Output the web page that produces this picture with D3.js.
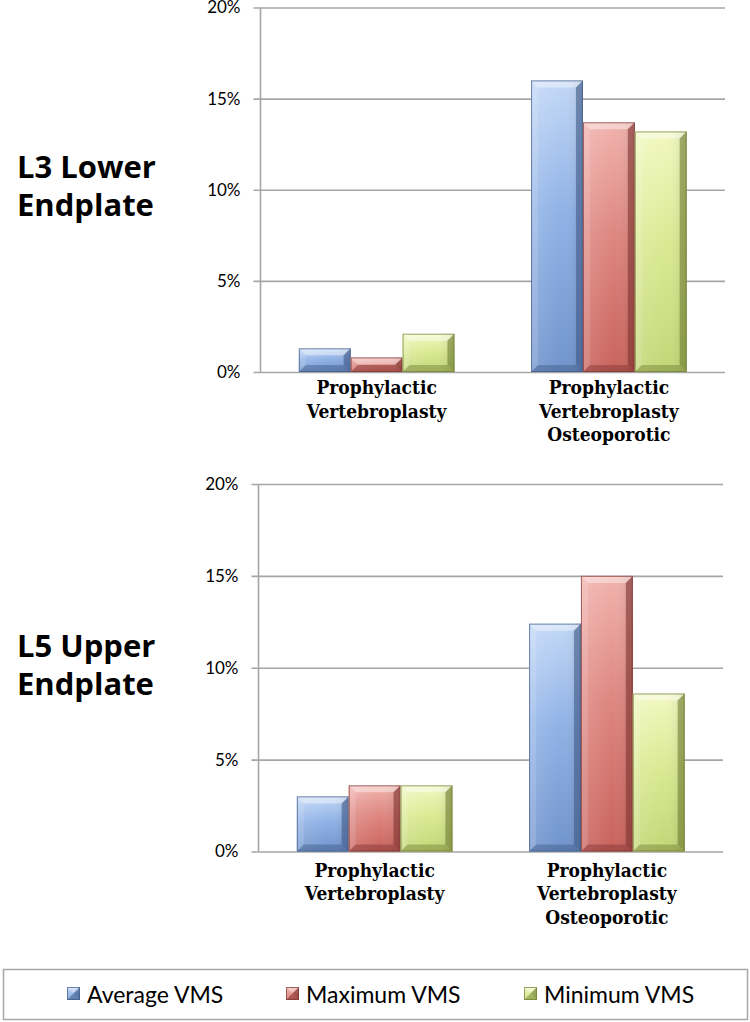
<!DOCTYPE html>
<html><head><meta charset="utf-8">
<script src="https://cdn.jsdelivr.net/npm/d3@7/dist/d3.min.js"></script>
<style>html,body{margin:0;padding:0;background:#fff;}svg{display:block;}</style>
</head><body>
<script>
const categories = ["Prophylactic|Vertebroplasty", "Prophylactic|Vertebroplasty|Osteoporotic"];
const seriesNames = ["Average VMS", "Maximum VMS", "Minimum VMS"];
const panelTitles = [["L3 Lower", "Endplate"], ["L5 Upper", "Endplate"]];
// values in percent, [category][series]
const l3Values = [[1.3, 0.8, 2.1], [16.0, 13.7, 13.2]];
const l5Values = [[3.0, 3.6, 3.6], [12.4, 15.0, 8.6]];
const yTicks = [0, 5, 10, 15, 20];

const colors = [
  {light:"#c3d8f7", mid:"#8fb2e6", dark:"#6f93cc", edge:"#3f5a88"},
  {light:"#f1b2ad", mid:"#de8680", dark:"#c9625c", edge:"#7e3430"},
  {light:"#f1f8c0", mid:"#dbea94", dark:"#c3d676", edge:"#6f7e32"}
];

const W = 750, H = 1022;
const svg = d3.select("body").append("svg").attr("width", W).attr("height", H);
const defs = svg.append("defs");
colors.forEach((c, i) => {
  const g = defs.append("linearGradient").attr("id", "g" + i).attr("x1", 0).attr("y1", 0).attr("x2", 0).attr("y2", 1);
  g.append("stop").attr("offset", "0%").attr("stop-color", c.light);
  g.append("stop").attr("offset", "45%").attr("stop-color", c.mid);
  g.append("stop").attr("offset", "100%").attr("stop-color", c.dark);
  const h = defs.append("linearGradient").attr("id", "h" + i).attr("x1", 0).attr("y1", 0).attr("x2", 1).attr("y2", 0);
  h.append("stop").attr("offset", "0%").attr("stop-color", "#fff").attr("stop-opacity", 0.15);
  h.append("stop").attr("offset", "60%").attr("stop-color", "#fff").attr("stop-opacity", 0);
  h.append("stop").attr("offset", "100%").attr("stop-color", "#000").attr("stop-opacity", 0.12);
});

const panels = [
  {values: l3Values, title: panelTitles[0], x0: 260.5, x1: 725, yTop: 7.5, yBot: 372, titleY: 178, labelDy: 22},
  {values: l5Values, title: panelTitles[1], x0: 258.5, x1: 723, yTop: 484, yBot: 851.5, titleY: 656.5, labelDy: 25}
];

function bevelBar(g, x, y, w, h, ci) {
  const c = colors[ci];
  const b = Math.min(7, h / 2, w / 2);
  const bar = g.append("g");
  bar.append("rect").attr("x", x).attr("y", y).attr("width", w).attr("height", h).attr("fill", `url(#g${ci})`);
  bar.append("rect").attr("x", x).attr("y", y).attr("width", w).attr("height", h).attr("fill", `url(#h${ci})`);
  const P = pts => pts.map(p => p.join(",")).join(" ");
  bar.append("polygon").attr("points", P([[x,y],[x+w,y],[x+w-b,y+b],[x+b,y+b]])).attr("fill", "#fff").attr("fill-opacity", 0.4);
  bar.append("polygon").attr("points", P([[x,y],[x+b,y+b],[x+b,y+h-b],[x,y+h]])).attr("fill", "#fff").attr("fill-opacity", 0.12);
  bar.append("polygon").attr("points", P([[x+w,y],[x+w,y+h],[x+w-b,y+h-b],[x+w-b,y+b]])).attr("fill", c.edge).attr("fill-opacity", 0.6);
  bar.append("polygon").attr("points", P([[x,y+h],[x+b,y+h-b],[x+w-b,y+h-b],[x+w,y+h]])).attr("fill", c.edge).attr("fill-opacity", 0.45);
  bar.append("rect").attr("x", x + 0.5).attr("y", y + 0.5).attr("width", Math.max(0, w - 1)).attr("height", Math.max(0, h - 1))
    .attr("fill", "none").attr("stroke", c.edge).attr("stroke-opacity", 0.7).attr("stroke-width", 1);
}

panels.forEach(p => {
  const g = svg.append("g");
  const y = d3.scaleLinear().domain([0, 20]).range([p.yBot, p.yTop]);
  const x = d3.scaleBand().domain(categories).range([p.x0, p.x1]).paddingInner(0.33).paddingOuter(0.165);
  const xs = d3.scaleBand().domain(seriesNames).range([0, x.bandwidth()]);

  // gridlines + ticks
  const axis = d3.axisLeft(y).tickValues(yTicks).tickFormat(d => d + "%").tickSize(-(p.x1 - p.x0)).tickPadding(20);
  const ag = g.append("g").attr("transform", `translate(${p.x0},0)`).call(axis);
  ag.select(".domain").remove();
  ag.selectAll(".tick line").attr("stroke", "#a6a6a6").attr("stroke-width", 1.6).attr("x1", -7);
  ag.selectAll(".tick text").attr("font-family", "Lato, 'Open Sans', sans-serif").attr("font-size", 17).attr("fill", "#000");
  g.append("line").attr("x1", p.x0).attr("x2", p.x0).attr("y1", p.yTop).attr("y2", p.yBot)
    .attr("stroke", "#a6a6a6").attr("stroke-width", 1.6);

  // bars
  categories.forEach((cat, ci) => {
    seriesNames.forEach((s, si) => {
      const v = p.values[ci][si];
      const bx = x(cat) + xs(s);
      const by = y(v);
      bevelBar(g, bx, by, xs.bandwidth(), y(0) - by, si);
    });
    // category label
    const lines = cat.split("|");
    const t = g.append("text").attr("text-anchor", "middle")
      .attr("font-family", "'DejaVu Serif Condensed', 'DejaVu Serif', serif").attr("font-stretch", "condensed")
      .attr("font-weight", "bold").attr("font-size", 19).attr("fill", "#000");
    lines.forEach((ln, li) => {
      t.append("tspan").attr("x", x(cat) + x.bandwidth() / 2).attr("y", p.yBot + p.labelDy + li * 23.7).text(ln);
    });
  });

  // panel title
  const tt = g.append("text").attr("font-family", "'Open Sans', sans-serif").attr("font-weight", "bold").attr("font-size", 31).attr("fill", "#000");
  p.title.forEach((ln, li) => {
    tt.append("tspan").attr("x", 17).attr("y", p.titleY + li * 38).text(ln);
  });
});

// legend
const lg = svg.append("g");
lg.append("rect").attr("x", 3.5).attr("y", 969.5).attr("width", 744).attr("height", 50).attr("fill", "#fff")
  .attr("stroke", "#a6a6a6").attr("stroke-width", 1.5);
const legendX = [67, 286, 524];
seriesNames.forEach((s, i) => {
  const gx = legendX[i];
  bevelBar(lg, gx, 987, 13, 13, i);
  lg.append("text").attr("x", gx + 20).attr("y", 1003).attr("font-family", "Lato, 'Open Sans', sans-serif")
    .attr("font-size", 23).attr("fill", "#000").text(s);
});
</script>
</body></html>
